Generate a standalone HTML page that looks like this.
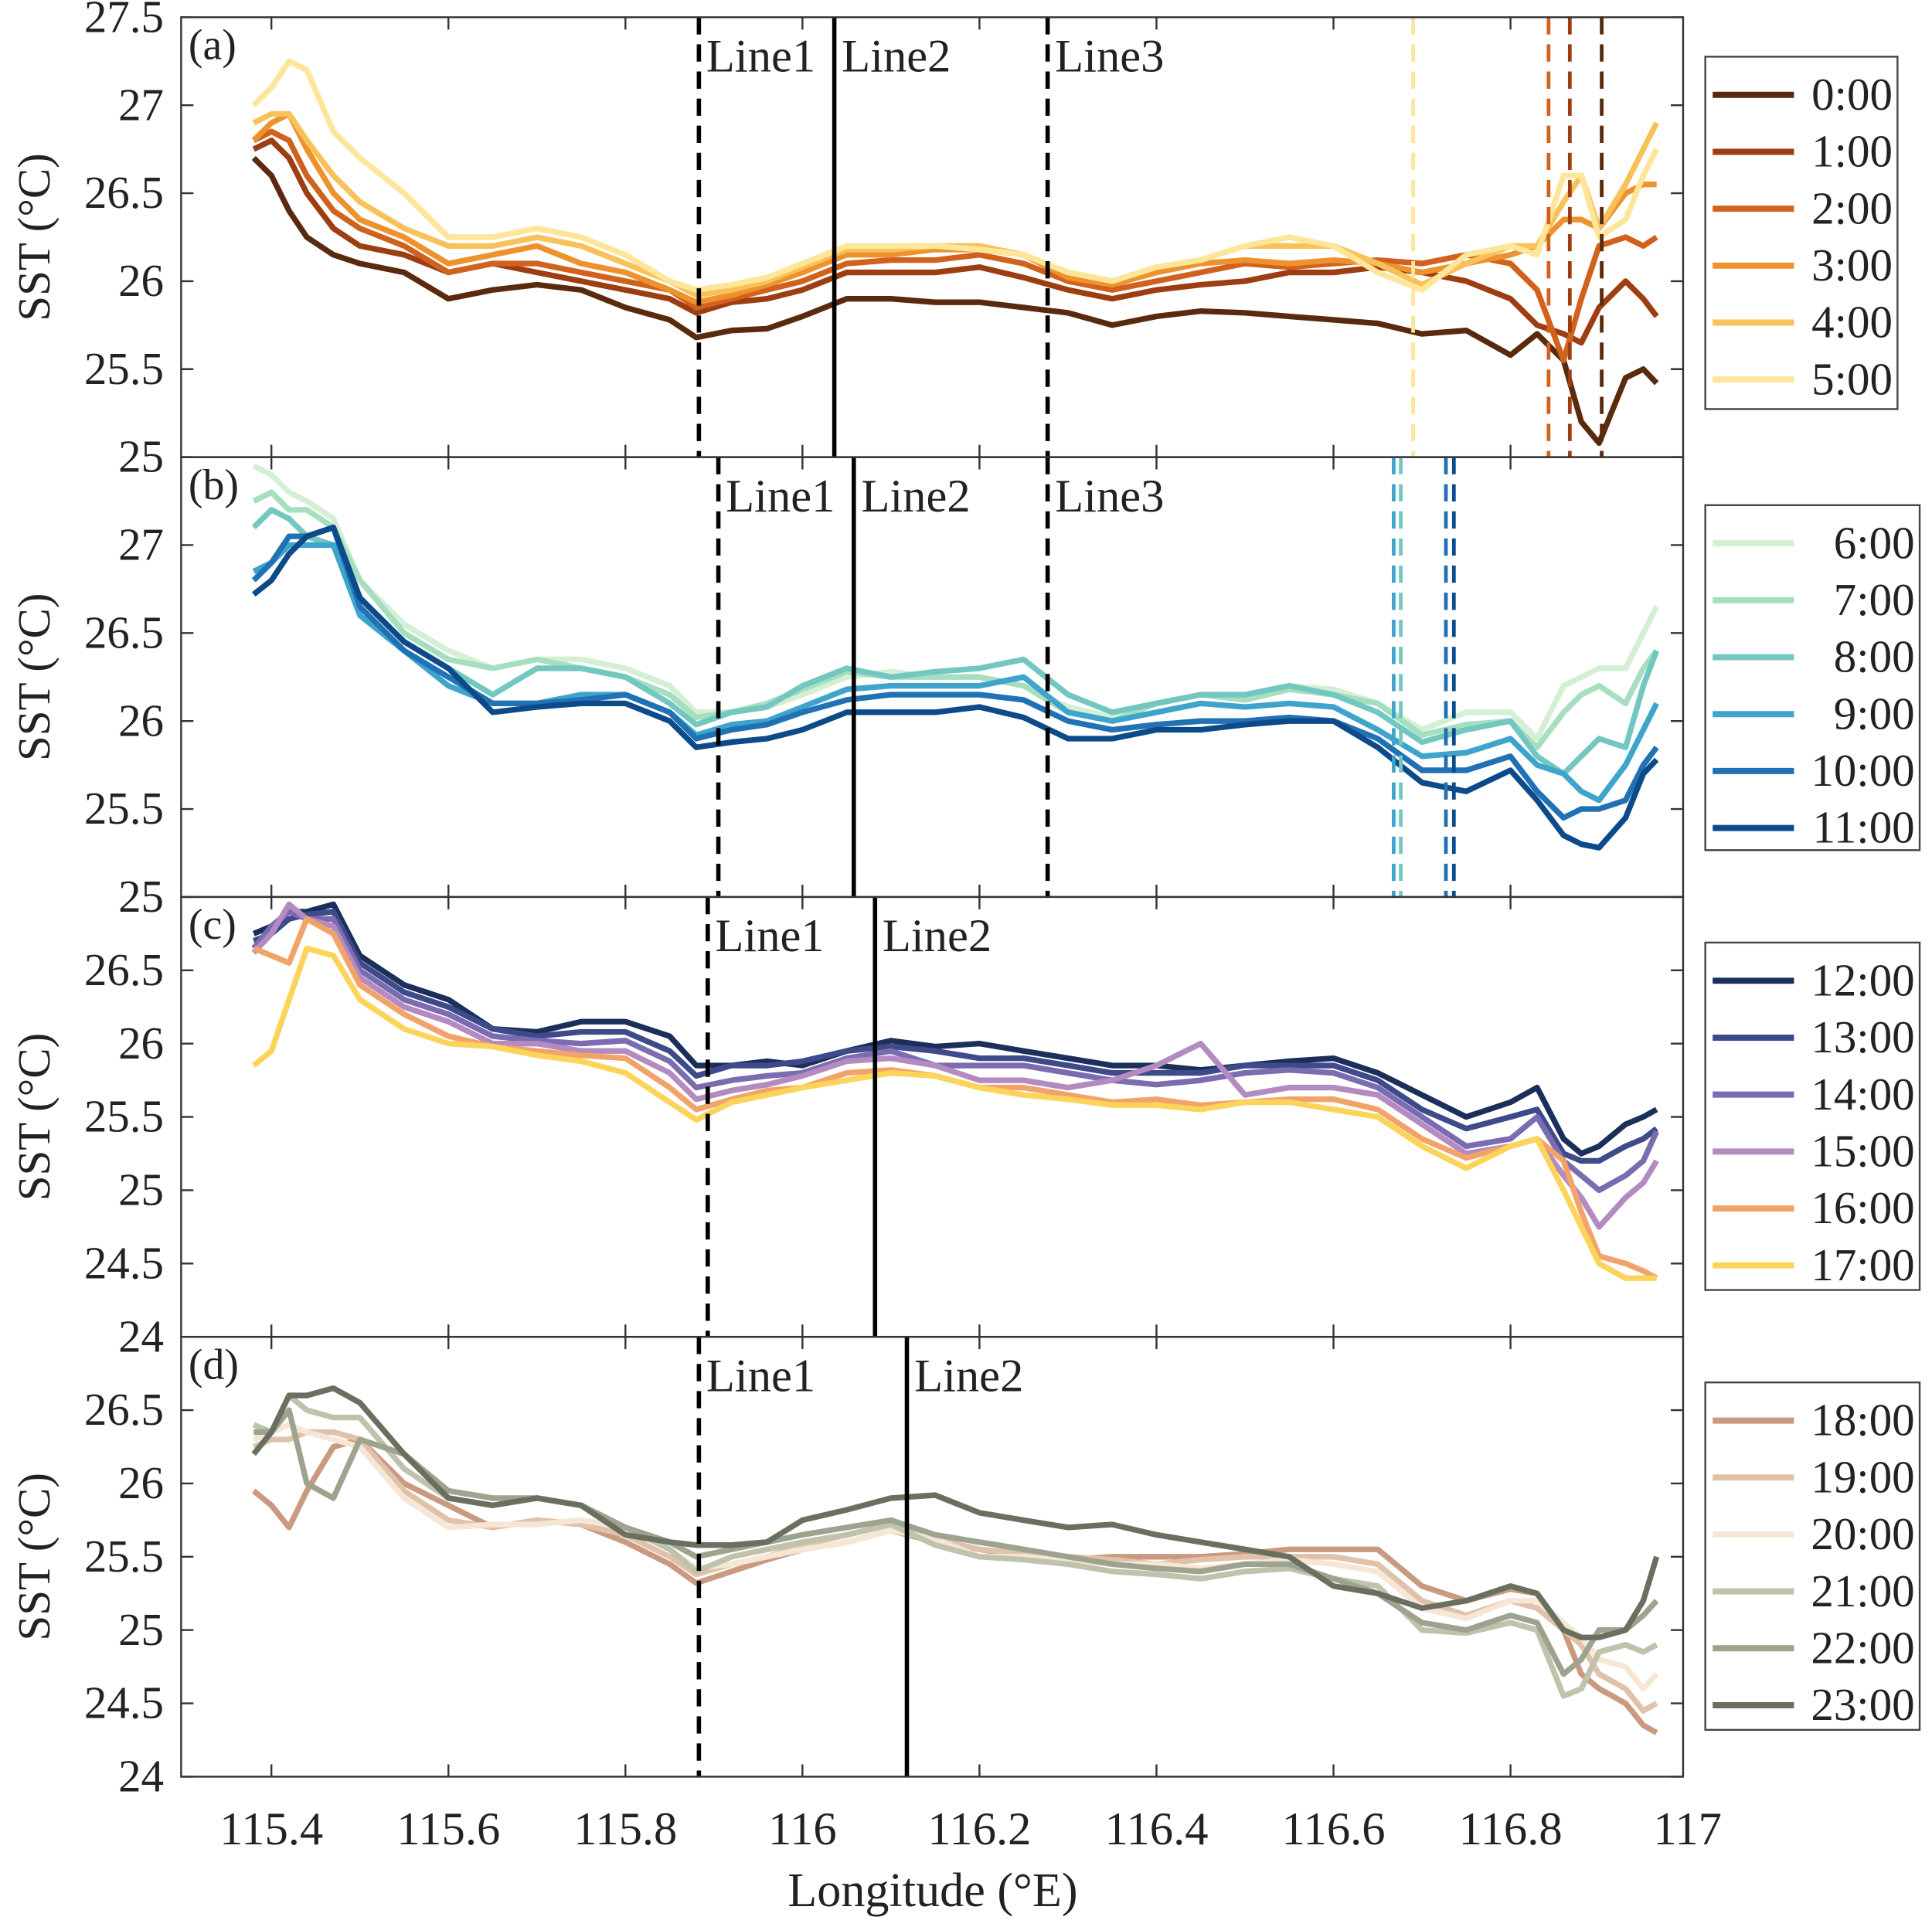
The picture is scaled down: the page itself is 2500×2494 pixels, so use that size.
<!DOCTYPE html>
<html><head><meta charset="utf-8"><style>
html,body{margin:0;padding:0;background:#fff}
svg{display:block}
text{font-family:"Liberation Serif",serif;fill:#222}
</style></head><body>
<svg id="chart" width="2500" height="2494" viewBox="0 0 1568 1564" preserveAspectRatio="none" xmlns="http://www.w3.org/2000/svg"></svg>
<script>
const lon=[115.38,115.40,115.42,115.44,115.47,115.50,115.55,115.60,115.65,115.70,115.75,115.80,115.85,115.88,115.92,115.96,116.00,116.05,116.10,116.15,116.20,116.25,116.30,116.35,116.40,116.45,116.50,116.55,116.60,116.65,116.70,116.75,116.80,116.83,116.86,116.88,116.90,116.93,116.95,116.965];
const xTicks=[115.4,115.6,115.8,116,116.2,116.4,116.6,116.8,117];
const xTickLabels=["115.4","115.6","115.8","116","116.2","116.4","116.6","116.8","117"];
const labelsA=["0:00","1:00","2:00","3:00","4:00","5:00"];
const labelsB=["6:00","7:00","8:00","9:00","10:00","11:00"];
const labelsC=["12:00","13:00","14:00","15:00","16:00","17:00"];
const labelsD=["18:00","19:00","20:00","21:00","22:00","23:00"];
const colorsA=["#5a2a0e","#9c3d12","#d0621d","#ee922e","#f7c25a","#fde69a"];
const colorsB=["#d4efd4","#a6dec0","#72c8c0","#3fa4cc","#2171b5","#0c4a8a"];
const colorsC=["#1b2f5a","#3e4a8a","#7b6bb0","#b38bc0","#f2a36a","#fcd45a"];
const colorsD=["#c99a80","#e0c2aa","#f6e6d6","#bfc3ac","#9ea390","#6a7060"];
const s0=[26.7,26.6,26.4,26.25,26.15,26.1,26.05,25.9,25.95,25.98,25.95,25.85,25.78,25.68,25.72,25.73,25.8,25.9,25.9,25.88,25.88,25.85,25.82,25.75,25.8,25.83,25.82,25.8,25.78,25.76,25.7,25.72,25.58,25.7,25.55,25.2,25.08,25.45,25.5,25.42];
const s1=[26.75,26.8,26.7,26.5,26.3,26.2,26.15,26.05,26.1,26.05,26.0,25.95,25.9,25.82,25.88,25.9,25.95,26.05,26.05,26.05,26.08,26.02,25.95,25.9,25.95,25.98,26.0,26.05,26.05,26.08,26.05,26.0,25.9,25.75,25.7,25.65,25.85,26.0,25.9,25.8];
const s2=[26.8,26.85,26.8,26.6,26.4,26.3,26.2,26.05,26.1,26.1,26.05,26.0,25.95,25.85,25.9,25.95,26.0,26.1,26.12,26.12,26.15,26.1,26.0,25.95,26.0,26.05,26.1,26.08,26.1,26.12,26.1,26.15,26.1,25.95,25.55,25.9,26.2,26.25,26.2,26.25];
const s3=[26.8,26.9,26.95,26.75,26.5,26.35,26.25,26.1,26.15,26.2,26.1,26.05,25.95,25.88,25.92,25.98,26.05,26.15,26.15,26.18,26.18,26.15,26.02,25.98,26.05,26.1,26.12,26.1,26.12,26.1,26.05,26.1,26.15,26.2,26.35,26.35,26.3,26.5,26.55,26.55];
const s4=[26.9,26.95,26.95,26.8,26.6,26.45,26.3,26.2,26.2,26.25,26.2,26.1,26.0,25.92,25.95,26.0,26.08,26.18,26.18,26.2,26.2,26.15,26.05,26.0,26.08,26.12,26.2,26.2,26.2,26.1,25.98,26.1,26.2,26.2,26.45,26.6,26.3,26.55,26.75,26.9];
const s5=[27.0,27.1,27.25,27.2,26.85,26.7,26.5,26.25,26.25,26.3,26.25,26.15,26.0,25.95,25.98,26.02,26.1,26.2,26.2,26.2,26.18,26.15,26.05,26.0,26.08,26.12,26.2,26.25,26.2,26.05,25.95,26.15,26.2,26.15,26.6,26.6,26.25,26.35,26.6,26.75];
const s6=[27.45,27.4,27.3,27.25,27.15,26.8,26.55,26.4,26.3,26.35,26.35,26.3,26.2,26.05,26.05,26.08,26.15,26.25,26.28,26.25,26.25,26.2,26.08,26.02,26.1,26.15,26.15,26.2,26.18,26.1,25.95,26.05,26.05,25.9,26.2,26.25,26.3,26.3,26.5,26.65];
const s7=[27.25,27.3,27.2,27.2,27.1,26.8,26.5,26.35,26.3,26.35,26.3,26.25,26.15,26.02,26.05,26.1,26.18,26.28,26.25,26.25,26.25,26.2,26.05,26.0,26.1,26.15,26.12,26.18,26.15,26.1,25.92,25.98,26.0,25.85,26.05,26.15,26.2,26.1,26.3,26.4];
const s8=[27.1,27.2,27.15,27.05,27.0,26.7,26.45,26.3,26.15,26.3,26.3,26.25,26.1,25.98,26.05,26.08,26.2,26.3,26.25,26.28,26.3,26.35,26.15,26.05,26.1,26.15,26.15,26.2,26.15,26.05,25.88,25.95,26.0,25.8,25.7,25.8,25.9,25.85,26.2,26.4];
const s9=[26.85,26.9,27.0,27.0,27.0,26.6,26.4,26.2,26.1,26.1,26.15,26.15,26.05,25.92,25.98,26.0,26.08,26.18,26.2,26.2,26.2,26.25,26.05,26.0,26.05,26.1,26.08,26.1,26.08,25.95,25.8,25.82,25.9,25.75,25.7,25.6,25.55,25.75,25.95,26.1];
const s10=[26.8,26.9,27.05,27.05,27.1,26.65,26.4,26.25,26.1,26.1,26.12,26.15,26.05,25.9,25.95,25.98,26.05,26.12,26.15,26.15,26.15,26.12,26.0,25.95,25.98,26.0,26.0,26.02,26.0,25.9,25.72,25.72,25.8,25.6,25.45,25.5,25.5,25.55,25.75,25.85];
const s11=[26.72,26.8,26.95,27.05,27.1,26.7,26.45,26.3,26.05,26.08,26.1,26.1,26.0,25.85,25.88,25.9,25.95,26.05,26.05,26.05,26.08,26.02,25.9,25.9,25.95,25.95,25.98,26.0,26.0,25.85,25.65,25.6,25.72,25.55,25.35,25.3,25.28,25.45,25.7,25.78];
const s12=[26.75,26.8,26.9,26.9,26.95,26.6,26.4,26.3,26.1,26.08,26.15,26.15,26.05,25.85,25.85,25.88,25.85,25.95,26.02,25.98,26.0,25.95,25.9,25.85,25.85,25.82,25.85,25.88,25.9,25.8,25.65,25.5,25.6,25.7,25.35,25.25,25.3,25.45,25.5,25.55];
const s13=[26.7,26.75,26.85,26.88,26.9,26.55,26.35,26.25,26.1,26.05,26.08,26.08,25.95,25.78,25.85,25.85,25.88,25.95,25.98,25.95,25.9,25.9,25.85,25.8,25.8,25.8,25.85,25.85,25.85,25.75,25.55,25.42,25.5,25.55,25.25,25.2,25.2,25.3,25.35,25.42];
const s14=[26.65,26.8,26.9,26.85,26.85,26.5,26.3,26.2,26.05,26.02,26.0,26.02,25.88,25.7,25.75,25.78,25.8,25.9,25.95,25.85,25.85,25.85,25.8,25.75,25.72,25.75,25.8,25.82,25.8,25.7,25.5,25.3,25.35,25.5,25.2,25.1,25.0,25.1,25.2,25.4];
const s15=[26.62,26.75,26.95,26.85,26.8,26.45,26.25,26.15,26.0,26.0,25.95,25.95,25.8,25.62,25.68,25.72,25.78,25.88,25.9,25.85,25.75,25.75,25.7,25.75,25.85,26.0,25.65,25.7,25.7,25.65,25.45,25.25,25.3,25.35,25.1,24.95,24.75,24.95,25.05,25.2];
const s16=[26.65,26.6,26.55,26.85,26.75,26.4,26.2,26.05,25.98,25.95,25.92,25.9,25.7,25.55,25.62,25.68,25.7,25.8,25.82,25.78,25.7,25.7,25.65,25.6,25.62,25.58,25.6,25.62,25.62,25.55,25.35,25.22,25.3,25.35,25.2,24.85,24.55,24.5,24.45,24.4];
const s17=[25.85,25.95,26.3,26.65,26.6,26.3,26.1,26.0,25.98,25.92,25.88,25.8,25.6,25.48,25.6,25.65,25.7,25.75,25.8,25.78,25.7,25.65,25.62,25.58,25.58,25.55,25.6,25.6,25.55,25.5,25.3,25.15,25.3,25.35,25.0,24.75,24.5,24.4,24.4,24.4];
const s18=[25.95,25.85,25.7,25.95,26.25,26.3,26.0,25.85,25.7,25.75,25.72,25.6,25.45,25.32,25.4,25.48,25.55,25.6,25.68,25.6,25.55,25.5,25.48,25.5,25.5,25.5,25.52,25.55,25.55,25.55,25.3,25.2,25.28,25.25,25.0,24.7,24.6,24.5,24.35,24.3];
const s19=[26.25,26.3,26.3,26.35,26.35,26.3,25.95,25.75,25.7,25.75,25.72,25.65,25.5,25.38,25.45,25.5,25.58,25.65,25.72,25.62,25.55,25.52,25.5,25.48,25.45,25.48,25.5,25.5,25.5,25.45,25.2,25.1,25.2,25.15,25.0,24.9,24.7,24.6,24.45,24.5];
const s20=[26.3,26.35,26.4,26.35,26.3,26.25,25.9,25.7,25.72,25.72,25.75,25.7,25.55,25.42,25.45,25.5,25.55,25.6,25.68,25.62,25.5,25.5,25.48,25.45,25.45,25.42,25.45,25.48,25.45,25.4,25.15,25.08,25.2,25.2,25.05,24.95,24.8,24.75,24.6,24.7];
const s21=[26.4,26.35,26.6,26.5,26.45,26.45,26.1,25.9,25.85,25.9,25.85,25.7,25.55,25.4,25.5,25.55,25.6,25.65,25.72,25.58,25.5,25.48,25.45,25.4,25.38,25.35,25.4,25.42,25.35,25.3,25.0,24.98,25.05,25.0,24.55,24.6,24.85,24.9,24.85,24.9];
const s22=[26.35,26.35,26.5,26.0,25.9,26.3,26.2,25.95,25.9,25.9,25.85,25.7,25.6,25.5,25.55,25.6,25.65,25.7,25.75,25.65,25.6,25.55,25.5,25.45,25.42,25.4,25.45,25.45,25.35,25.25,25.05,25.0,25.1,25.05,24.7,24.8,25.0,25.0,25.1,25.2];
const s23=[26.2,26.35,26.6,26.6,26.65,26.55,26.2,25.9,25.85,25.9,25.85,25.65,25.6,25.58,25.58,25.6,25.75,25.82,25.9,25.92,25.8,25.75,25.7,25.72,25.65,25.6,25.55,25.5,25.3,25.25,25.15,25.2,25.3,25.25,25.0,24.95,24.95,25.0,25.2,25.5];
const refLinesA=[115.883,116.036,116.277];
const refLinesB=[115.905,116.058,116.277];
const refLinesC=[115.893,116.082];
const refLinesD=[115.883,116.118];
const refLabels=["Line1","Line2","Line3"];
const dashA=[116.69,116.843,116.867,116.903];
const dashAColors=["#fde69a","#d0621d","#9c3d12","#5a2a0e"];
const dashB=[116.668,116.676,116.727,116.736];
const dashBColors=["#3fa4cc","#72c8c0","#2171b5","#0c4a8a"];

const NS="http://www.w3.org/2000/svg";
const svg=document.getElementById('chart');
const X0=147,X1=1366,LMIN=115.298,LMAX=116.995;
const xs=v=>X0+(v-LMIN)/(LMAX-LMIN)*(X1-X0);
function mk(t,a,p){const e=document.createElementNS(NS,t);for(const k in a)e.setAttribute(k,a[k]);(p||svg).appendChild(e);return e;}

const panels=[
 {id:'a',top:14,bot:371,ymin:25,ymax:27.5,yt:[25,25.5,26,26.5,27,27.5],series:[s0,s1,s2,s3,s4,s5],labels:labelsA,colors:colorsA,refs:refLinesA,dash:dashA,dashC:dashAColors,leg:[1384,46,156,286]},
 {id:'b',top:371,bot:728,ymin:25,ymax:27.5,yt:[25,25.5,26,26.5,27],series:[s6,s7,s8,s9,s10,s11],labels:labelsB,colors:colorsB,refs:refLinesB,dash:dashB,dashC:dashBColors,leg:[1384,410,174,280]},
 {id:'c',top:728,bot:1085,ymin:24,ymax:27,yt:[24,24.5,25,25.5,26,26.5],series:[s12,s13,s14,s15,s16,s17],labels:labelsC,colors:colorsC,refs:refLinesC,dash:[],dashC:[],leg:[1384,765,174,282]},
 {id:'d',top:1085,bot:1442,ymin:24,ymax:27,yt:[24,24.5,25,25.5,26,26.5],series:[s18,s19,s20,s21,s22,s23],labels:labelsD,colors:colorsD,refs:refLinesD,dash:[],dashC:[],leg:[1384,1122,174,282]}
];

panels.forEach(P=>{
 const g=mk('g',{});
 
 
 const ys=v=>P.bot-(v-P.ymin)/(P.ymax-P.ymin)*(P.bot-P.top);
 const cp=mk('clipPath',{id:'clip'+P.id},g);
 mk('rect',{x:X0,y:P.top,width:X1-X0,height:P.bot-P.top},cp);
 const inner=mk('g',{'clip-path':'url(#clip'+P.id+')'},g);
 P.series.forEach((s,i)=>{
  const d=s.map((v,k)=>(k?'L':'M')+xs(lon[k]).toFixed(1)+' '+ys(v).toFixed(1)).join(' ');
  const p=mk('path',{d:d,fill:'none',stroke:P.colors[i],'stroke-width':4.6,'stroke-linejoin':'round'},inner);
  
  
 });
 P.dash.forEach((v,i)=>{
  const l=mk('line',{x1:xs(v),x2:xs(v),y1:P.top,y2:P.bot,stroke:P.dashC[i],'stroke-width':3,'stroke-dasharray':'14 8'},inner);
  
  
 });
 P.refs.forEach((v,i)=>{
  const solid=(i===1);
  const l=mk('line',{x1:xs(v),x2:xs(v),y1:P.top,y2:P.bot,stroke:'#000','stroke-width':3.5,'stroke-dasharray':solid?'none':'14 8'},g);
  
  
  const t=mk('text',{x:xs(v)+6,y:P.top+44,'font-size':38},g);
  t.textContent=refLabels[i];
  
  
 });
 const fr=mk('rect',{x:X0,y:P.top,width:X1-X0,height:P.bot-P.top,fill:'none',stroke:'#333','stroke-width':1.5},g);
 
 
 xTicks.forEach(v=>{
  const x=xs(v); if(x>X1+1)return;
  mk('line',{x1:x,x2:x,y1:P.bot,y2:P.bot-10,stroke:'#333','stroke-width':1.5},g);
  mk('line',{x1:x,x2:x,y1:P.top,y2:P.top+10,stroke:'#333','stroke-width':1.5},g);
 });
 P.yt.forEach(v=>{
  const y=ys(v);
  mk('line',{x1:X0,x2:X0+10,y1:y,y2:y,stroke:'#333','stroke-width':1.5},g);
  mk('line',{x1:X1,x2:X1-10,y1:y,y2:y,stroke:'#333','stroke-width':1.5},g);
  const t=mk('text',{x:133,y:y+12,'font-size':37,'text-anchor':'end'},g);
  t.textContent=String(v);
  
  
 });
 const pl=mk('text',{x:153,y:P.top+34,'font-size':35},g);
 pl.textContent='('+P.id+')';
 
 
 const cy=(P.top+P.bot)/2;
 const yt=mk('text',{x:40,y:cy,'font-size':37,'text-anchor':'middle',transform:'rotate(-90 40 '+cy+')'},g);
 yt.textContent='SST (°C)';
 
 
 const lg=mk('g',{},g);
 
 
 const [lx,ly,lw,lh]=P.leg;
 mk('rect',{x:lx,y:ly,width:lw,height:lh,fill:'#fff',stroke:'#444','stroke-width':1.5},lg);
 P.labels.forEach((lab,i)=>{
  const y=ly+31+i*46.2;
  const e=mk('g',{},lg);
  
  
  mk('line',{x1:lx+6,x2:lx+72,y1:y,y2:y,stroke:P.colors[i],'stroke-width':5},e);
  const t=mk('text',{x:lx+lw-4,y:y+12,'font-size':37,'text-anchor':'end'},e);
  t.textContent=lab;
 });
});
xTicks.forEach((v,i)=>{
 const t=mk('text',{x:xs(v),y:1497,'font-size':38,'text-anchor':'middle'});
 t.textContent=xTickLabels[i];
 
 
});
const xt=mk('text',{x:757,y:1547,'font-size':39,'text-anchor':'middle'});
xt.textContent='Longitude (°E)';


</script>
</body></html>
